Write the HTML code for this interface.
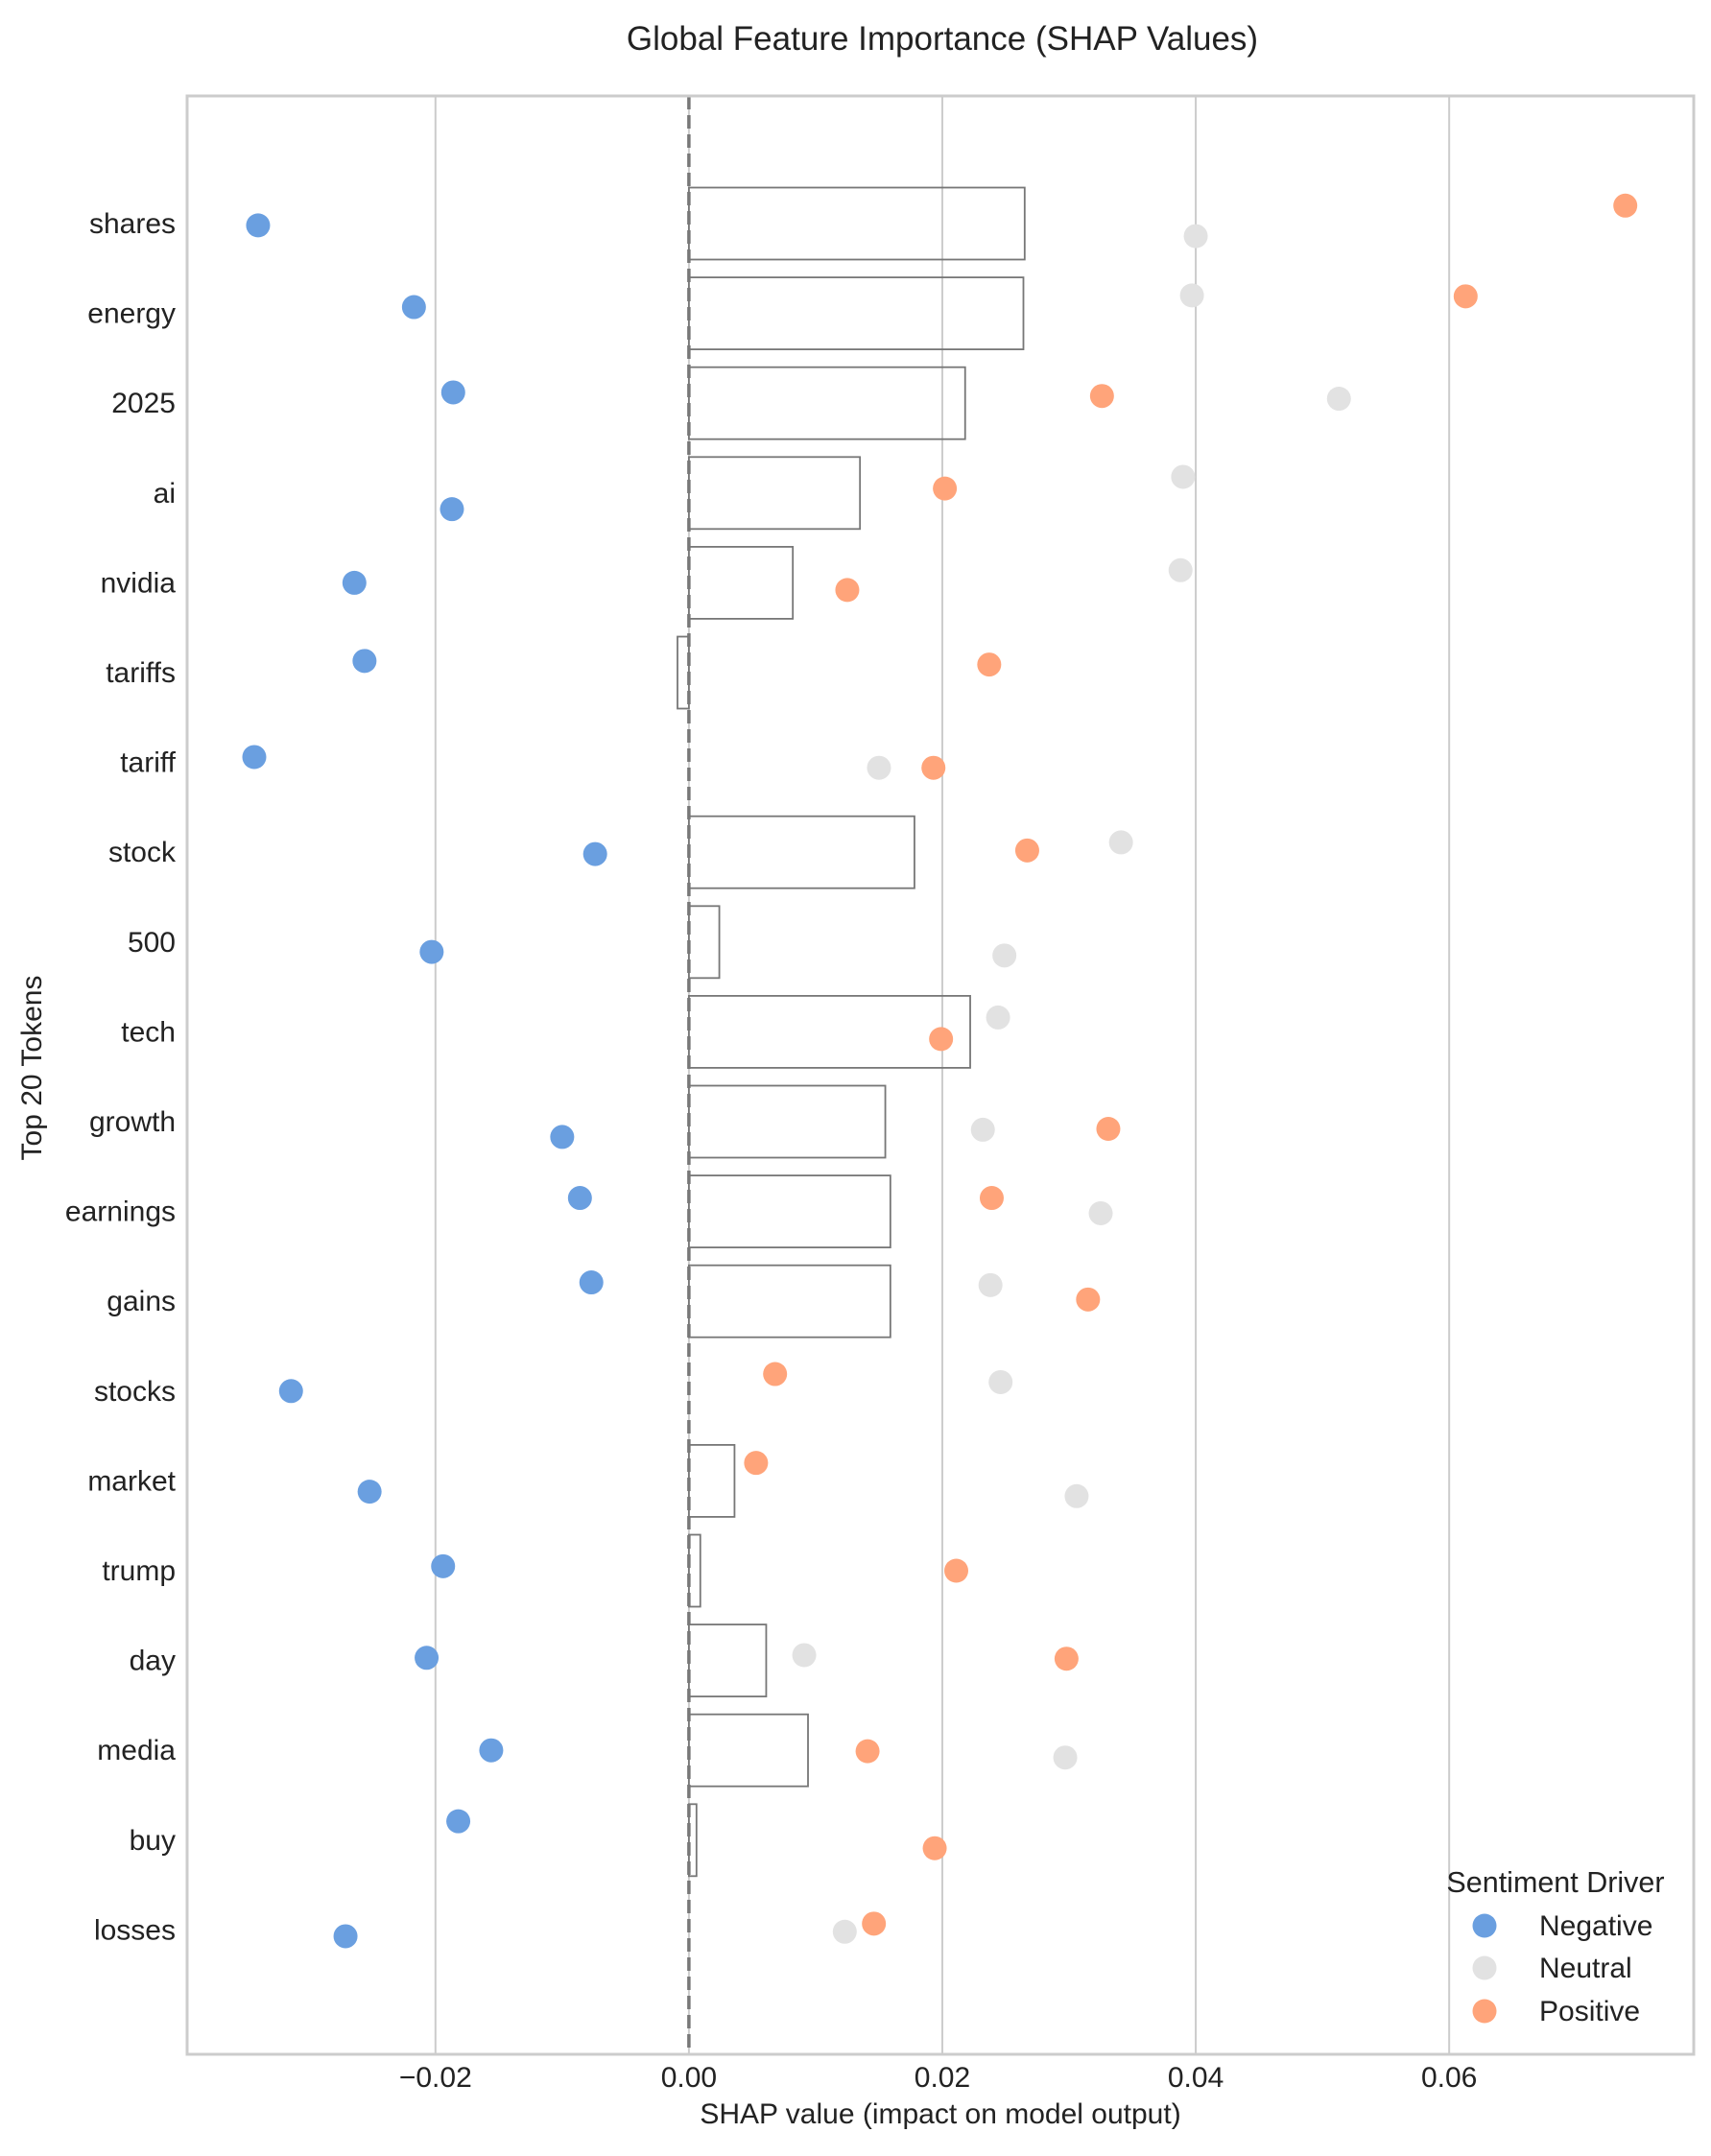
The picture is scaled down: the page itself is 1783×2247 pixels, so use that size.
<!DOCTYPE html>
<html><head><meta charset="utf-8"><style>
body{margin:0;background:#fff;}
svg text{font-family:"Liberation Sans",Arial,sans-serif;fill:#222;}
</style></head><body>
<svg id="chart" width="1783" height="2242" viewBox="0 0 1783 2242" xmlns="http://www.w3.org/2000/svg">
<text x="982" y="52" font-size="35" text-anchor="middle">Global Feature Importance (SHAP Values)</text>
<g id="grid"></g><g id="bars"></g><g id="dots"></g><g id="axes"></g>
<text x="980" y="2213" font-size="30" text-anchor="middle">SHAP value (impact on model output)</text>
<text transform="translate(43,1113) rotate(-90)" font-size="30" text-anchor="middle">Top 20 Tokens</text>
<g>
<text x="1621" y="1972" font-size="30.5" text-anchor="middle">Sentiment Driver</text>
<circle cx="1547" cy="2007" r="12.5" fill="#6a9fe0"/>
<text x="1604" y="2017" font-size="30">Negative</text>
<circle cx="1547" cy="2051" r="12.5" fill="#e2e2e2"/>
<text x="1604" y="2061" font-size="30">Neutral</text>
<circle cx="1547" cy="2096" r="12.5" fill="#ffa47a"/>
<text x="1604" y="2106" font-size="30">Positive</text>
</g>
</svg>
<script>
const tokens=["shares","energy","2025","ai","nvidia","tariffs","tariff","stock","500","tech","growth","earnings","gains","stocks","market","trump","day","media","buy","losses"];
const meanShap=[0.0265,0.0264,0.0218,0.0135,0.0082,-0.0009,0,0.0178,0.0024,0.0222,0.0155,0.0159,0.0159,0,0.0036,0.0009,0.0061,0.0094,0.0006,0];
const negVals=[-0.0340,-0.0217,-0.0186,-0.0187,-0.0264,-0.0256,-0.0343,-0.0074,-0.0203,null,-0.0100,-0.0086,-0.0077,-0.0314,-0.0252,-0.0194,-0.0207,-0.0156,-0.0182,-0.0271];
const negJit=[0.02,-0.07,-0.12,0.18,0,-0.13,-0.06,0.02,0.11,0,0.17,-0.15,-0.21,0,0.12,-0.05,-0.03,0,-0.21,0.07];
const neuVals=[0.0400,0.0397,0.0513,0.0390,0.0388,null,0.0150,0.0341,0.0249,0.0244,0.0232,0.0325,0.0238,0.0246,0.0306,null,0.0091,0.0297,null,0.0123];
const neuJit=[0.14,-0.2,-0.05,-0.18,-0.14,0,0.06,-0.11,0.15,-0.16,0.09,0.02,-0.18,-0.1,0.17,0,-0.06,0.08,0,0.02];
const posVals=[0.0739,0.0613,0.0326,0.0202,0.0125,0.0237,0.0193,0.0267,null,0.0199,0.0331,0.0239,0.0315,0.0068,0.0053,0.0211,0.0298,0.0141,0.0194,0.0146];
const posJit=[-0.2,-0.19,-0.08,-0.05,0.08,-0.09,0.06,-0.02,0,0.08,0.08,-0.15,-0.02,-0.19,-0.2,0,-0.02,0.01,0.09,-0.07];
const xTicks=[-0.02,0,0.02,0.04,0.06];
const xTickLabels=["\u22120.02","0.00","0.02","0.04","0.06"];
const L=195,R=1765,T=100,B=2141,xMin=-0.0396,xMax=0.0793;
const ROW0=233,ROWH=93.6;
const X=v=>L+(v-xMin)/(xMax-xMin)*(R-L);
const Y=i=>ROW0+i*ROWH;
const NS="http://www.w3.org/2000/svg";
function mk(tag,attrs,parent,txt){const e=document.createElementNS(NS,tag);for(const k in attrs)e.setAttribute(k,attrs[k]);if(txt!==undefined)e.textContent=txt;document.getElementById(parent).appendChild(e);return e;}
xTicks.forEach((t,i)=>{
 const g=mk('line',{x1:X(t),x2:X(t),y1:T,y2:B,stroke:'#cccccc','stroke-width':2},'grid');
 
 
 const tl=mk('text',{x:X(t),y:2175,'font-size':30,'text-anchor':'middle'},'axes',xTickLabels[i]);
 
 
});
const fr=mk('rect',{x:L,y:T,width:R-L,height:B-T,fill:'none',stroke:'#cccccc','stroke-width':3},'axes');


tokens.forEach((tk,i)=>{
 const y=Y(i);
 const lb=mk('text',{x:183,y:y+10,'font-size':30,'text-anchor':'end'},'axes',tk);
 
 
 const v=meanShap[i];
 if(v!==0){
  const x0=Math.min(X(0),X(v)),w=Math.abs(X(v)-X(0));
  const b=mk('rect',{x:x0,y:y-37.5,width:w,height:75,fill:'none',stroke:'#777','stroke-width':1.8},'bars');
  
  
 }
 [[negVals,negJit,'#6a9fe0','neg'],[neuVals,neuJit,'#e2e2e2','neu'],[posVals,posJit,'#ffa47a','pos']].forEach(s=>{
  const val=s[0][i];if(val===null)return;
  const c=mk('circle',{cx:X(val),cy:y+s[1][i]*ROWH,r:12.5,fill:s[2]},'dots');
  
  
 });
});
const z=mk('line',{x1:X(0),x2:X(0),y1:T,y2:B,stroke:'#777','stroke-width':3.5,'stroke-dasharray':'14,6'},'bars');


</script>
</body></html>
